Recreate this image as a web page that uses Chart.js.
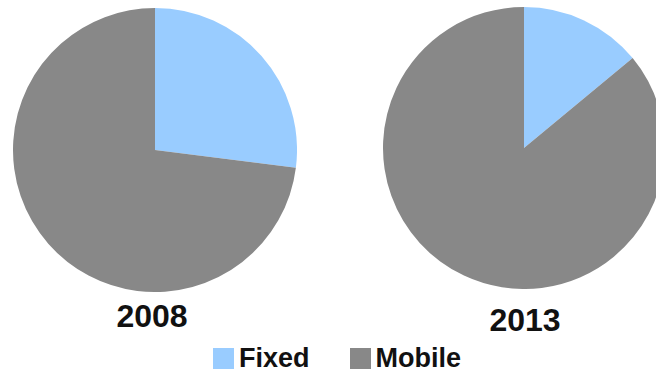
<!DOCTYPE html>
<html>
<head>
<meta charset="UTF-8">
<script src="https://cdn.jsdelivr.net/npm/chart.js"></script>
<style>
  body { margin: 0; width: 656px; height: 374px; overflow: hidden; background: #fff; position: relative;
         font-family: "Liberation Sans", Arial, sans-serif; font-weight: bold; color: #111; }
  .pie { position: absolute; }
  .year { position: absolute; font-size: 32px; line-height: 1; transform: translateX(-50%); }
  #legenda { position: absolute; left: 213px; top: 345px; font-size: 27px; line-height: 1; display: flex; align-items: center; }
  .item { display: flex; align-items: center; margin-right: 40px; }
  .box { width: 21px; height: 21px; margin-right: 5px; }
</style>
</head>
<body>
  <div class="pie" style="left:13px; top:8px;"><canvas id="pie2008" width="284" height="284"></canvas></div>
  <div class="pie" style="left:383px; top:7px;"><canvas id="pie2013" width="282" height="282"></canvas></div>
  <div class="year" id="ano1" style="left:152px; top:300px;"></div>
  <div class="year" id="ano2" style="left:525px; top:304px;"></div>
  <div id="legenda"></div>

<script>
  // dados
  const categorias = ['Fixed', 'Mobile'];
  const anos = ['2008', '2013'];
  const valores2008 = [27, 73];
  const valores2013 = [14, 86];
  const cores = ['#99CCFF', '#888888'];

  function criarPizza(id, valores) {
    return new Chart(document.getElementById(id), {
      type: 'pie',
      data: {
        labels: categorias,
        datasets: [{ data: valores, backgroundColor: cores, borderWidth: 0 }]
      },
      options: {
        responsive: false,
        animation: false,
        layout: { padding: 0 },
        plugins: { legend: { display: false }, tooltip: { enabled: false } }
      }
    });
  }

  criarPizza('pie2008', valores2008);
  criarPizza('pie2013', valores2013);

  document.getElementById('ano1').textContent = anos[0];
  document.getElementById('ano2').textContent = anos[1];

  let legenda = document.getElementById('legenda');
  for (let i = 0; i < categorias.length; i++) {
    legenda.innerHTML += `<div class="item"><div class="box" style="background:${cores[i]}"></div>${categorias[i]}</div>`;
  }
</script>
</body>
</html>
